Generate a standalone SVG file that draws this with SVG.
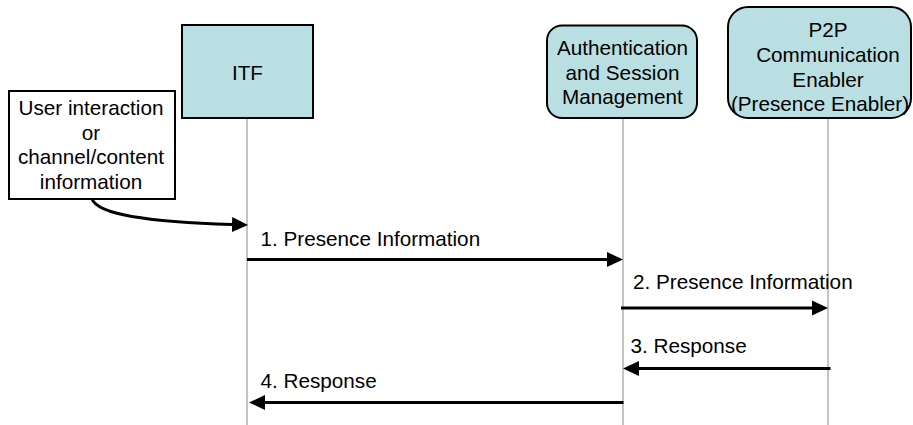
<svg xmlns="http://www.w3.org/2000/svg" width="913" height="425" viewBox="0 0 913 425">
  <style>
    text { font-family: "Liberation Sans", Arial, sans-serif; font-size: 20.7px; fill: #000; }
    .mid { text-anchor: middle; }
    .actor { fill: #b9dfe2; stroke: #000; stroke-width: 2; }
    .note { fill: #fff; stroke: #000; stroke-width: 2; }
    .life { stroke: #c4c4c4; stroke-width: 2; fill: none; }
    .msg { stroke: #000; stroke-width: 3; fill: none; marker-end: url(#arrow); }
  </style>
  <defs>
    <marker id="arrow" markerUnits="userSpaceOnUse" viewBox="0 0 16 16" refX="0" refY="8" markerWidth="16" markerHeight="16" orient="auto">
      <path d="M0,0.5 L16,8 L0,15.5 Z" fill="#000"/>
    </marker>
  </defs>

  <g id="lifelines">
    <line class="life" x1="247" y1="118" x2="247" y2="425"/>
    <line class="life" x1="623" y1="118" x2="623" y2="425"/>
    <line class="life" x1="828" y1="118" x2="828" y2="425"/>
  </g>

  <g id="node-itf">
    <rect class="actor" x="182" y="25" width="131" height="93"/>
    <text class="mid" x="247.5" y="80">ITF</text>
  </g>

  <g id="node-user">
    <rect class="note" x="9" y="91" width="166" height="108"/>
    <text class="mid" x="91" y="115">User interaction</text>
    <text class="mid" x="91" y="139.7">or</text>
    <text class="mid" x="91" y="164.3">channel/content</text>
    <text class="mid" x="91" y="189">information</text>
  </g>

  <g id="node-auth">
    <rect class="actor" x="547" y="25.5" width="150" height="92.5" rx="15" ry="15"/>
    <text class="mid" x="622.5" y="55">Authentication</text>
    <text class="mid" x="622.5" y="79.5">and Session</text>
    <text class="mid" x="622.5" y="104">Management</text>
  </g>

  <g id="node-p2p">
    <rect class="actor" x="728" y="7" width="183" height="111" rx="20" ry="20"/>
    <text class="mid" x="828" y="37">P2P</text>
    <text class="mid" x="828" y="62">Communication</text>
    <text class="mid" x="828" y="86.5">Enabler</text>
    <text class="mid" x="820" y="111">(Presence Enabler)</text>
  </g>

  <g id="connectors">
    <path class="msg" d="M92,199 C98,215 150,222 232,224.5"/>
    <line class="msg" x1="247" y1="259.5" x2="607" y2="259.5"/>
    <text x="260.5" y="245.7">1. Presence Information</text>
    <line class="msg" x1="621" y1="308" x2="812" y2="308"/>
    <text x="633" y="289">2. Presence Information</text>
    <line class="msg" x1="830.5" y1="368.5" x2="639" y2="368.5"/>
    <text x="630.5" y="353">3. Response</text>
    <line class="msg" x1="623.5" y1="402.5" x2="265" y2="402.5"/>
    <text x="260.5" y="388">4. Response</text>
  </g>
</svg>
